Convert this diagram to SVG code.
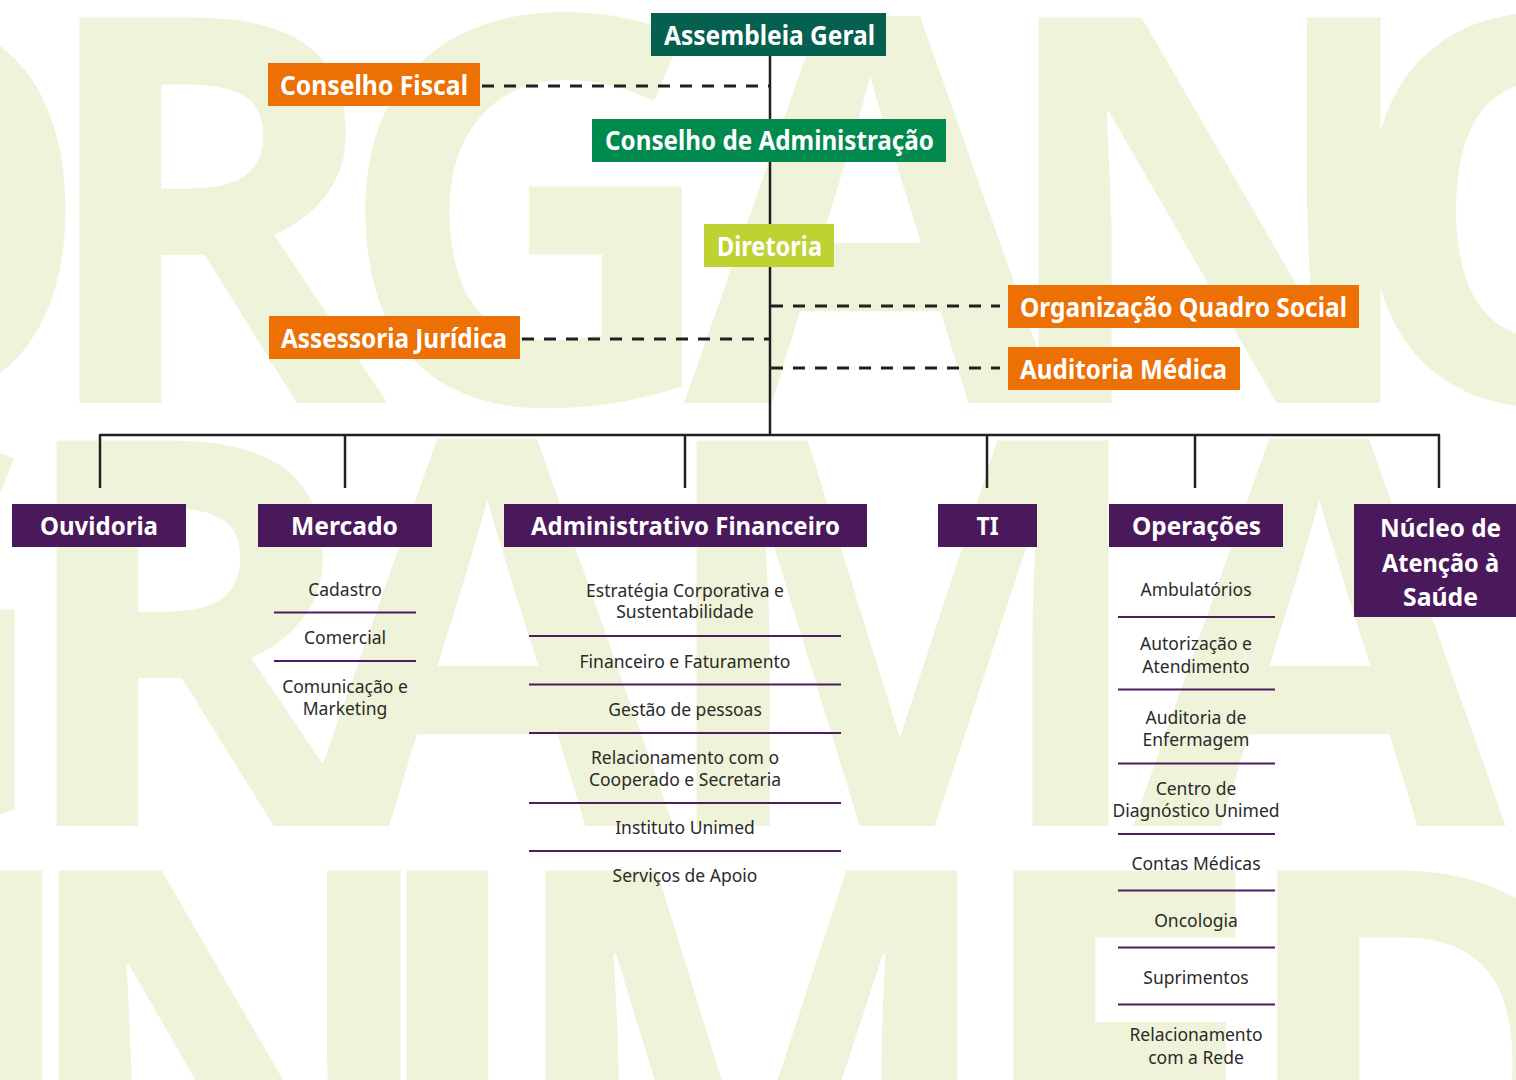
<svg xmlns="http://www.w3.org/2000/svg" width="1516" height="1080" viewBox="0 0 1516 1080">
  <defs>
    <style>
      .bg { font-family: "Open Sans", "Noto Sans", sans-serif; font-weight: 700; font-size: 540px; fill: #eff3da; }
      .title { font-family: "Noto Sans", "Open Sans", sans-serif; font-weight: 700; fill: #ffffff; text-anchor: middle; }
      .t26 { font-size: 26px; }
      .t25 { font-size: 25px; }
      .item { font-family: "Noto Sans", "Open Sans", sans-serif; font-size: 17.5px; fill: #2b2a29; text-anchor: middle; }
      .teal { fill: #05604f; }
      .green { fill: #018a4e; }
      .lime { fill: #bed232; }
      .orange { fill: #ec7004; }
      .purple { fill: #4a195b; }
      .solid { stroke: #231f20; stroke-width: 2.5; fill: none; }
      .dash { stroke: #231f20; stroke-width: 3; stroke-dasharray: 12 10; fill: none; }
      .sep { stroke: #4b1e5e; stroke-width: 2; }
    </style>
  </defs>
  <rect x="0" y="0" width="1516" height="1080" fill="#ffffff"/>
  <g id="background">
    <text class="bg" x="-333" y="403">O</text>
    <text class="bg" x="31" y="403">R</text>
    <text class="bg" x="334" y="403">G</text>
    <text class="bg" x="684" y="403">A</text>
    <text class="bg" x="990" y="403">N</text>
    <text class="bg" x="1339" y="403">O</text>
    <text class="bg" x="-333" y="826">G</text>
    <text class="bg" x="8" y="826">R</text>
    <text class="bg" x="301" y="826">A</text>
    <text class="bg" x="648" y="826">M</text>
    <text class="bg" x="1133" y="826">A</text>
    <text class="bg" x="-320" y="1256">U</text>
    <text class="bg" x="10" y="1256">N</text>
    <text class="bg" x="358" y="1256">I</text>
    <text class="bg" x="497" y="1256">M</text>
    <text class="bg" x="965" y="1256">E</text>
    <text class="bg" x="1229" y="1256">D</text>
  </g>
  <g id="connectors">
    <line class="solid" x1="770" y1="56" x2="770" y2="436"/>
    <line class="dash" x1="482" y1="86" x2="769" y2="86"/>
    <line class="dash" x1="522" y1="339" x2="769" y2="339"/>
    <line class="dash" x1="771" y1="306" x2="1000" y2="306"/>
    <line class="dash" x1="771" y1="368" x2="1000" y2="368"/>
    <line class="solid" x1="99" y1="435" x2="1440" y2="435" stroke-width="3"/>
    <line class="solid" x1="100" y1="435" x2="100" y2="488"/>
    <line class="solid" x1="345" y1="435" x2="345" y2="488"/>
    <line class="solid" x1="685" y1="435" x2="685" y2="488"/>
    <line class="solid" x1="987" y1="435" x2="987" y2="488"/>
    <line class="solid" x1="1195" y1="435" x2="1195" y2="488"/>
    <line class="solid" x1="1439" y1="435" x2="1439" y2="488"/>
  </g>
  <g id="assembleia-geral">
    <rect class="teal" x="651" y="13" width="235" height="43"/>
    <text class="title t26" x="769.5" y="45" textLength="211" lengthAdjust="spacingAndGlyphs">Assembleia Geral</text>
  </g>
  <g id="conselho-fiscal">
    <rect class="orange" x="268" y="63" width="212" height="43"/>
    <text class="title t26" x="374" y="94.5" textLength="188" lengthAdjust="spacingAndGlyphs">Conselho Fiscal</text>
  </g>
  <g id="conselho-administracao">
    <rect class="green" x="592" y="119" width="354" height="43"/>
    <text class="title t26" x="769.5" y="150" textLength="329" lengthAdjust="spacingAndGlyphs">Conselho de Administração</text>
  </g>
  <g id="diretoria">
    <rect class="lime" x="704" y="224" width="130" height="43"/>
    <text class="title t26" x="769.5" y="256" textLength="105" lengthAdjust="spacingAndGlyphs">Diretoria</text>
  </g>
  <g id="organizacao-quadro-social">
    <rect class="orange" x="1008" y="285" width="351" height="43"/>
    <text class="title t26" x="1183.5" y="317" textLength="327" lengthAdjust="spacingAndGlyphs">Organização Quadro Social</text>
  </g>
  <g id="assessoria-juridica">
    <rect class="orange" x="269" y="316" width="251" height="43"/>
    <text class="title t26" x="394" y="347.5" textLength="226" lengthAdjust="spacingAndGlyphs">Assessoria Jurídica</text>
  </g>
  <g id="auditoria-medica">
    <rect class="orange" x="1008" y="347" width="232" height="43"/>
    <text class="title t26" x="1123.5" y="379" textLength="207" lengthAdjust="spacingAndGlyphs">Auditoria Médica</text>
  </g>
  <g id="ouvidoria">
    <rect class="purple" x="12" y="504" width="174" height="43"/>
    <text class="title t25" x="99" y="535" textLength="118" lengthAdjust="spacingAndGlyphs">Ouvidoria</text>
  </g>
  <g id="mercado">
    <rect class="purple" x="258" y="504" width="174" height="43"/>
    <text class="title t25" x="344.5" y="535" textLength="107" lengthAdjust="spacingAndGlyphs">Mercado</text>
    <text class="item" x="345" y="596">Cadastro</text>
    <line class="sep" x1="274" y1="612.5" x2="416" y2="612.5"/>
    <text class="item" x="345" y="644">Comercial</text>
    <line class="sep" x1="274" y1="661" x2="416" y2="661"/>
    <text class="item" x="345" y="693">Comunicação e</text>
    <text class="item" x="345" y="714.5">Marketing</text>
  </g>
  <g id="administrativo-financeiro">
    <rect class="purple" x="504" y="504" width="363" height="43"/>
    <text class="title t25" x="685.5" y="535" textLength="309" lengthAdjust="spacingAndGlyphs">Administrativo Financeiro</text>
    <text class="item" x="685" y="596.5">Estratégia Corporativa e</text>
    <text class="item" x="685" y="618">Sustentabilidade</text>
    <line class="sep" x1="529" y1="636" x2="841" y2="636"/>
    <text class="item" x="685" y="668">Financeiro e Faturamento</text>
    <line class="sep" x1="529" y1="684.5" x2="841" y2="684.5"/>
    <text class="item" x="685" y="716">Gestão de pessoas</text>
    <line class="sep" x1="529" y1="733" x2="841" y2="733"/>
    <text class="item" x="685" y="764">Relacionamento com o</text>
    <text class="item" x="685" y="786">Cooperado e Secretaria</text>
    <line class="sep" x1="529" y1="803" x2="841" y2="803"/>
    <text class="item" x="685" y="834">Instituto Unimed</text>
    <line class="sep" x1="529" y1="851" x2="841" y2="851"/>
    <text class="item" x="685" y="882">Serviços de Apoio</text>
  </g>
  <g id="ti">
    <rect class="purple" x="938" y="504" width="99" height="43"/>
    <text class="title t25" x="987.5" y="535" textLength="22" lengthAdjust="spacingAndGlyphs">TI</text>
  </g>
  <g id="operacoes">
    <rect class="purple" x="1109" y="504" width="174" height="43"/>
    <text class="title t25" x="1196.5" y="535" textLength="129" lengthAdjust="spacingAndGlyphs">Operações</text>
    <text class="item" x="1196" y="596">Ambulatórios</text>
    <line class="sep" x1="1118" y1="617" x2="1275" y2="617"/>
    <text class="item" x="1196" y="649.5">Autorização e</text>
    <text class="item" x="1196" y="672.5">Atendimento</text>
    <line class="sep" x1="1118" y1="689.5" x2="1275" y2="689.5"/>
    <text class="item" x="1196" y="723.5">Auditoria de</text>
    <text class="item" x="1196" y="745.5">Enfermagem</text>
    <line class="sep" x1="1118" y1="763.5" x2="1275" y2="763.5"/>
    <text class="item" x="1196" y="795">Centro de</text>
    <text class="item" x="1196" y="816.5">Diagnóstico Unimed</text>
    <line class="sep" x1="1118" y1="834" x2="1275" y2="834"/>
    <text class="item" x="1196" y="869.5">Contas Médicas</text>
    <line class="sep" x1="1118" y1="890.5" x2="1275" y2="890.5"/>
    <text class="item" x="1196" y="927">Oncologia</text>
    <line class="sep" x1="1118" y1="947.5" x2="1275" y2="947.5"/>
    <text class="item" x="1196" y="984">Suprimentos</text>
    <line class="sep" x1="1118" y1="1004.5" x2="1275" y2="1004.5"/>
    <text class="item" x="1196" y="1041">Relacionamento</text>
    <text class="item" x="1196" y="1064">com a Rede</text>
  </g>
  <g id="nucleo-atencao-saude">
    <rect class="purple" x="1354" y="504" width="162" height="113"/>
    <text class="title t25" x="1440.5" y="537" textLength="121" lengthAdjust="spacingAndGlyphs">Núcleo de</text>
    <text class="title t25" x="1440.5" y="571.5" textLength="117" lengthAdjust="spacingAndGlyphs">Atenção à</text>
    <text class="title t25" x="1440.5" y="606" textLength="75" lengthAdjust="spacingAndGlyphs">Saúde</text>
  </g>
</svg>
